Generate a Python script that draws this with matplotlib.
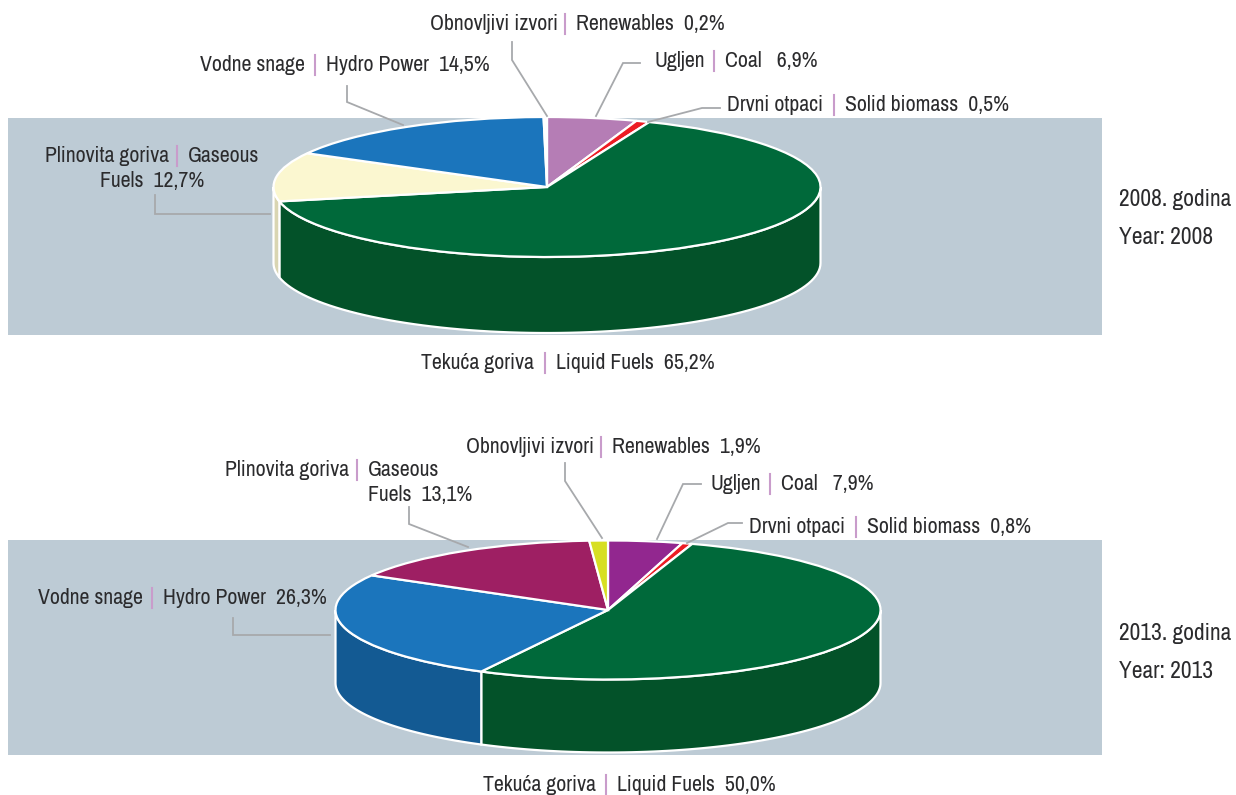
import matplotlib
matplotlib.use('Agg')
import numpy as np
import matplotlib.pyplot as plt
from matplotlib.patches import Polygon, Rectangle
from matplotlib.transforms import Affine2D

W, H = 1236, 795

# slice sizes as drawn in the picture (the artwork does not follow its labels exactly)
slices_2008 = [5.3, 0.8, 65.6, 11.3, 16.8, 0.2]
slices_2013 = [4.4, 0.6, 52.7, 25.6, 15.6, 1.1]

colors_2008 = ['#b57db5', '#ed1c24', '#00693a', '#fbf7d0', '#1b75bc', '#ffffff']
walls_2008 = ['#8a5f8a', '#b5151b', '#035229', '#d9d5b2', '#135a93', '#bdcbd5']
colors_2013 = ['#92278f', '#ed1c24', '#00693a', '#1b75bc', '#9e1f63', '#d7df23']
walls_2013 = ['#6f1d6d', '#b5151b', '#035229', '#135a93', '#78174b', '#a4aa1b']

# left text, x, bar x, right text, x, y
labels = [
    ('Obnovljivi izvori', 430, 565, 'Renewables  0,2%', 576, 24),
    ('Vodne snage', 200, 315, 'Hydro Power  14,5%', 326, 65),
    ('Ugljen', 654, 714, 'Coal   6,9%', 725, 61),
    ('Drvni otpaci', 727, 834, 'Solid biomass  0,5%', 845, 105),
    ('Plinovita goriva', 45, 177, 'Gaseous', 188, 156),
    ('Tekuća goriva', 421, 545, 'Liquid Fuels  65,2%', 556, 363),
    ('Obnovljivi izvori', 466, 601, 'Renewables  1,9%', 612, 447),
    ('Plinovita goriva', 225, 357, 'Gaseous', 368, 470),
    ('Ugljen', 710, 770, 'Coal   7,9%', 781, 484),
    ('Drvni otpaci', 749, 856, 'Solid biomass  0,8%', 867, 527),
    ('Vodne snage', 38, 152, 'Hydro Power  26,3%', 163, 598),
    ('Tekuća goriva', 483, 606, 'Liquid Fuels  50,0%', 617, 785),
]
fuels_labels = [('Fuels  12,7%', 100, 181), ('Fuels  13,1%', 368, 495)]
year_labels = [
    ('2008. godina', 1119, 200),
    ('Year: 2008', 1119, 238),
    ('2013. godina', 1119, 633),
    ('Year: 2013', 1119, 671),
]
leaders = [
    [(512, 42), (512, 60), (547, 116)],
    [(640, 63), (623, 63), (596, 116)],
    [(720, 108), (702, 108), (648, 122)],
    [(347, 86), (347, 102), (403, 125)],
    [(155, 195), (155, 214), (270, 214)],
    [(565, 463), (565, 481), (602, 538)],
    [(701, 484), (683, 484), (657, 539)],
    [(742, 523), (728, 523), (687, 543)],
    [(409, 507), (409, 524), (468, 547)],
    [(233, 618), (233, 635), (330, 635)],
]

plt.rcParams['font.family'] = ['Archivo Narrow', 'Liberation Sans', 'DejaVu Sans']
TEXT = '#2b2b2d'
FS = 15.7
FS_YEAR = 16.9

fig = plt.figure(figsize=(W / 100, H / 100), dpi=100)
ax = fig.add_axes([0, 0, 1, 1])


def pie3d(values, colors, wall_colors, cx, cy, rx, ry, depth):
    wedges, _ = ax.pie(values, colors=colors, startangle=90, counterclock=False,
                       radius=1, frame=True,
                       wedgeprops=dict(edgecolor='white', linewidth=1.6, zorder=4))
    tr = Affine2D().scale(rx, ry).translate(cx, H - cy) + ax.transData
    for w, wc in zip(wedges, wall_colors):
        w.set_transform(tr)
        # side wall: only the part of the arc on the front half of the ellipse
        for k in (-360, 0, 360):
            a0 = max(w.theta1, -180 + k)
            a1 = min(w.theta2, 0 + k)
            if a1 <= a0:
                continue
            t = np.radians(np.linspace(a0, a1, 80))
            x = cx + rx * np.cos(t)
            y = H - cy + ry * np.sin(t)
            pts = np.r_[np.c_[x, y], np.c_[x, y - depth][::-1]]
            ax.add_patch(Polygon(pts, closed=True, facecolor=wc, edgecolor='white',
                                 linewidth=1.6, zorder=3))


ax.add_patch(Rectangle((8, H - 335), 1094, 217, facecolor='#bdcbd5', edgecolor='none', zorder=1))
ax.add_patch(Rectangle((8, H - 755), 1094, 215, facecolor='#bdcbd5', edgecolor='none', zorder=1))

pie3d(slices_2008, colors_2008, walls_2008, 547, 187, 273.5, 70, 76)
pie3d(slices_2013, colors_2013, walls_2013, 608, 610, 272.5, 69.5, 73)

for pts in leaders:
    xs, ys = zip(*pts)
    ax.plot(xs, [H - v for v in ys], color='#a7a9ac', lw=1.3, zorder=5, solid_joinstyle='miter')

for left, lx, bx, right, rx_, y in labels:
    ax.text(lx, H - y, left, fontsize=FS, color=TEXT, va='center', ha='left', zorder=6)
    ax.plot([bx, bx], [H - y - 10, H - y + 10], color='#c99ccb', lw=1.5, zorder=6)
    ax.text(rx_, H - y, right, fontsize=FS, color=TEXT, va='center', ha='left', zorder=6)
for s, x, y in fuels_labels:
    ax.text(x, H - y, s, fontsize=FS, color=TEXT, va='center', ha='left', zorder=6)
for s, x, y in year_labels:
    ax.text(x, H - y, s, fontsize=FS_YEAR, color=TEXT, va='center', ha='left', zorder=6)

ax.set_xlim(0, W)
ax.set_ylim(0, H)
ax.axis('off')
fig.savefig('out.png', dpi=100)
